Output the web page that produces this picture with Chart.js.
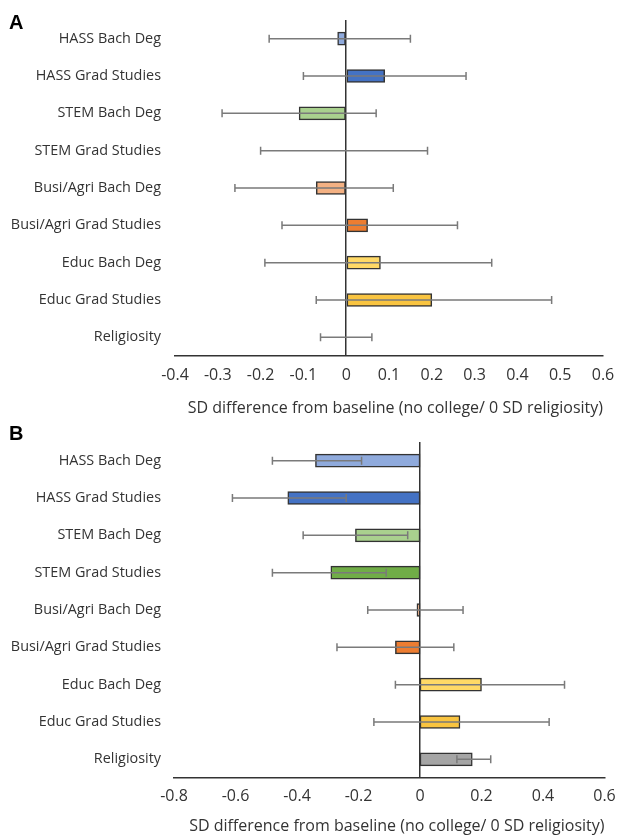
<!DOCTYPE html>
<html><head><meta charset="utf-8">
<script src="https://cdn.jsdelivr.net/npm/chart.js@4/dist/chart.umd.min.js"></script>
<style>
html,body{margin:0;padding:0;background:#fff;}
#wrap{position:relative;width:617px;height:839px;overflow:hidden;background:#fff;}
canvas{position:absolute;left:0;}
#cA{top:0}
#cB{top:420px}
.lab{position:absolute;font-family:"Liberation Sans",Arial,sans-serif;font-weight:bold;font-size:20px;color:#000;line-height:20px;}
</style></head><body>
<div id="wrap">
<canvas id="cA" width="617" height="420"></canvas>
<canvas id="cB" width="617" height="419"></canvas>
<div class="lab" style="left:9px;top:12px">A</div>
<div class="lab" style="left:9px;top:423px">B</div>
</div>
<script>
const categories = ['HASS Bach Deg','HASS Grad Studies','STEM Bach Deg','STEM Grad Studies','Busi/Agri Bach Deg','Busi/Agri Grad Studies','Educ Bach Deg','Educ Grad Studies','Religiosity'];
const barColors = ['#8faadc','#4472c4','#a9d18e','#70ad47','#f4b183','#ed7d31','#ffd966','#f9c440','#a5a5a5'];

const valuesA = [-0.02, 0.09, -0.11, 0, -0.07, 0.05, 0.08, 0.20, 0];
const lowA    = [-0.18, -0.10, -0.29, -0.20, -0.26, -0.15, -0.19, -0.07, -0.06];
const highA   = [0.15, 0.28, 0.07, 0.19, 0.11, 0.26, 0.34, 0.48, 0.06];

const valuesB = [-0.34, -0.43, -0.21, -0.29, -0.01, -0.08, 0.20, 0.13, 0.17];
const lowB    = [-0.48, -0.61, -0.38, -0.48, -0.17, -0.27, -0.08, -0.15, 0.12];
const highB   = [-0.19, -0.24, -0.04, -0.11, 0.14, 0.11, 0.47, 0.42, 0.23];

const ticksA = ['-0.4','-0.3','-0.2','-0.1','0','0.1','0.2','0.3','0.4','0.5','0.6'];
const ticksB = ['-0.8','-0.6','-0.4','-0.2','0','0.2','0.4','0.6'];
const axisTitle = 'SD difference from baseline (no college/ 0 SD religiosity)';

const FONT = '"Open Sans", "DejaVu Sans", sans-serif';
const TXT = '#333333';

const errorBars = {
  id: 'errorBars',
  afterDatasetsDraw(chart, args, opts) {
    const ctx = chart.ctx, x = chart.scales.x, y = chart.scales.y;
    ctx.save();
    ctx.strokeStyle = '#7a7a7a';
    ctx.lineWidth = 1.5;
    opts.low.forEach((l, i) => {
      const yy = y.getPixelForValue(i);
      const x1 = x.getPixelForValue(l), x2 = x.getPixelForValue(opts.high[i]);
      ctx.beginPath();
      ctx.moveTo(x1, yy); ctx.lineTo(x2, yy);
      ctx.moveTo(x1, yy - 4); ctx.lineTo(x1, yy + 4);
      ctx.moveTo(x2, yy - 4); ctx.lineTo(x2, yy + 4);
      ctx.stroke();
    });
    ctx.restore();
  }
};

function makeChart(id, values, low, high, min, max, step, tickLabels, cfg) {
  return new Chart(document.getElementById(id), {
    type: 'bar',
    data: {
      labels: categories,
      datasets: [{
        data: values,
        backgroundColor: barColors,
        borderColor: '#333333',
        borderWidth: 1.5,
        borderSkipped: false,
        barThickness: 13
      }]
    },
    options: {
      indexAxis: 'y',
      responsive: false,
      animation: false,
      layout: { padding: { left: 0, right: cfg.right, top: cfg.top, bottom: 0 } },
      plugins: {
        legend: { display: false },
        tooltip: { enabled: false },
        errorBars: { low: low, high: high }
      },
      scales: {
        y: {
          grid: { display: false },
          border: { display: false },
          ticks: { color: TXT, font: { family: FONT, size: 14.4 }, padding: cfg.ypad },
          afterFit: s => { s.width = cfg.yWidth; s.paddingTop = 0; s.paddingBottom = 0; }
        },
        x: {
          min: min, max: max,
          ticks: {
            stepSize: step,
            color: TXT,
            font: { family: FONT, size: 16 },
            padding: cfg.tickPad,
            maxRotation: 0,
            autoSkip: false,
            callback: (v, i) => tickLabels[i]
          },
          grid: {
            drawTicks: false,
            lineWidth: 1.5,
            color: c => (c.tick && Math.abs(c.tick.value) < 1e-9) ? '#333333' : 'rgba(0,0,0,0)'
          },
          border: { display: true, color: '#333333', width: 1.5 },
          title: {
            display: true, text: axisTitle, align: 'end', color: TXT,
            font: { family: FONT, size: 16 }, padding: { top: 0, bottom: cfg.tpad }
          },
          afterFit: s => { s.height = cfg.xHeight; s.paddingLeft = 0; s.paddingRight = 0; }
        }
      }
    },
    plugins: [errorBars]
  });
}

makeChart('cA', valuesA, lowA, highA, -0.4, 0.6, 0.1, ticksA,
  { right: 14, top: 20, yWidth: 175, ypad: 6, xHeight: 64, tpad: 2, tickPad: 10 });
makeChart('cB', valuesB, lowB, highB, -0.8, 0.6, 0.2, ticksB,
  { right: 12.5, top: 22, yWidth: 174, ypad: 5, xHeight: 61, tpad: 3, tickPad: 9 });
</script>
</body></html>
